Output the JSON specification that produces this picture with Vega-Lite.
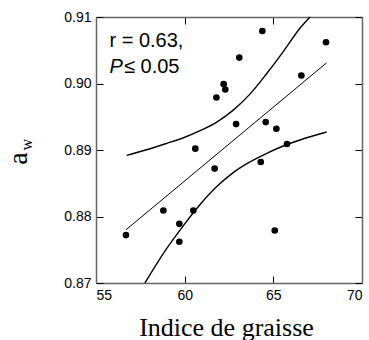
{
  "$schema": "https://vega.github.io/schema/vega-lite/v6.json",
  "width": 266,
  "height": 266,
  "autosize": {"type": "none"},
  "padding": {"left": 96, "top": 17, "right": 7, "bottom": 57},
  "background": "white",
  "config": {
    "view": {"stroke": null},
    "axis": {
      "labelFont": "Liberation Sans",
      "labelFontSize": 14,
      "labelColor": "black",
      "domainColor": "#666666",
      "domainWidth": 1.5,
      "tickColor": "black",
      "tickSize": -7,
      "tickWidth": 1,
      "grid": false,
      "labelPadding": 12
    }
  },
  "datasets": {
    "points": [
      {"fat": 56.69, "aw": 0.8772},
      {"fat": 58.8, "aw": 0.8809},
      {"fat": 59.7, "aw": 0.8789},
      {"fat": 59.7, "aw": 0.8762},
      {"fat": 60.49, "aw": 0.8809},
      {"fat": 60.6, "aw": 0.8902},
      {"fat": 61.69, "aw": 0.8872},
      {"fat": 61.79, "aw": 0.8979},
      {"fat": 62.2, "aw": 0.8999},
      {"fat": 62.29, "aw": 0.8991},
      {"fat": 62.9, "aw": 0.8939},
      {"fat": 63.08, "aw": 0.9039},
      {"fat": 64.29, "aw": 0.8882},
      {"fat": 64.38, "aw": 0.9079},
      {"fat": 64.57, "aw": 0.8942},
      {"fat": 65.08, "aw": 0.8779},
      {"fat": 65.17, "aw": 0.8932},
      {"fat": 65.77, "aw": 0.8909},
      {"fat": 66.58, "aw": 0.9012},
      {"fat": 67.97, "aw": 0.9062}
    ],
    "bands": [
      {"series": "upper", "fat": 56.73, "aw": 0.8892},
      {"series": "upper", "fat": 57.8, "aw": 0.89},
      {"series": "upper", "fat": 58.99, "aw": 0.891},
      {"series": "upper", "fat": 59.9, "aw": 0.8918},
      {"series": "upper", "fat": 60.87, "aw": 0.8929},
      {"series": "upper", "fat": 61.81, "aw": 0.8942},
      {"series": "upper", "fat": 62.74, "aw": 0.896},
      {"series": "upper", "fat": 63.68, "aw": 0.8984},
      {"series": "upper", "fat": 64.63, "aw": 0.9015},
      {"series": "upper", "fat": 65.56, "aw": 0.9048},
      {"series": "upper", "fat": 66.5, "aw": 0.9083},
      {"series": "upper", "fat": 67.07, "aw": 0.91},
      {"series": "lower", "fat": 57.76, "aw": 0.87},
      {"series": "lower", "fat": 58.99, "aw": 0.8752},
      {"series": "lower", "fat": 59.92, "aw": 0.8786},
      {"series": "lower", "fat": 60.87, "aw": 0.8818},
      {"series": "lower", "fat": 61.81, "aw": 0.8845},
      {"series": "lower", "fat": 62.74, "aw": 0.8866},
      {"series": "lower", "fat": 63.68, "aw": 0.8882},
      {"series": "lower", "fat": 64.63, "aw": 0.8895},
      {"series": "lower", "fat": 65.56, "aw": 0.8906},
      {"series": "lower", "fat": 66.5, "aw": 0.8915},
      {"series": "lower", "fat": 68.01, "aw": 0.8927}
    ],
    "fit": [
      {"fat": 56.69, "aw": 0.878},
      {"fat": 68.0, "aw": 0.9031}
    ],
    "notes": [
      {"fat": 55.76, "aw": 0.9055, "label": "r = 0.63,"},
      {"fat": 56.58, "aw": 0.9016, "label": "≤ 0.05"}
    ],
    "italic": [
      {"fat": 55.76, "aw": 0.9016, "label": "P"}
    ],
    "sub": [
      {"fat": 51.4, "aw": 0.8908, "label": "w"}
    ]
  },
  "layer": [
    {
      "data": {"name": "bands"},
      "mark": {"type": "line", "interpolate": "monotone", "color": "black", "strokeWidth": 1.4},
      "encoding": {
        "x": {"field": "fat", "type": "quantitative", "scale": {"domain": [55, 70], "nice": false, "zero": false},
              "axis": {"orient": "top", "labels": false, "title": null, "values": [55, 60, 65, 70]}},
        "y": {"field": "aw", "type": "quantitative", "scale": {"domain": [0.87, 0.91], "nice": false, "zero": false},
              "axis": {"orient": "right", "labels": false, "title": null, "values": [0.87, 0.88, 0.89, 0.9, 0.91]}},
        "detail": {"field": "series"}
      }
    },
    {
      "data": {"name": "fit"},
      "mark": {"type": "line", "color": "black", "strokeWidth": 1},
      "encoding": {
        "x": {"field": "fat", "type": "quantitative", "axis": null},
        "y": {"field": "aw", "type": "quantitative", "axis": null}
      }
    },
    {
      "data": {"name": "points"},
      "mark": {"type": "point", "filled": true, "size": 44, "color": "black", "opacity": 1},
      "encoding": {
        "x": {"field": "fat", "type": "quantitative",
              "axis": {"orient": "bottom", "values": [55, 60, 65, 70], "title": "Indice de graisse",
                       "titleFont": "Liberation Serif", "titleFontSize": 26, "titleFontWeight": "normal",
                       "titleColor": "black", "titleBaseline": "alphabetic", "titleY": 52, "titleX": 130}},
        "y": {"field": "aw", "type": "quantitative",
              "axis": {"orient": "left", "values": [0.87, 0.88, 0.89, 0.9, 0.91], "format": ".2f", "title": "a",
                       "titleFont": "Liberation Serif", "titleFontSize": 28, "titleFontWeight": "normal",
                       "titleColor": "black", "titleAngle": 270, "titleBaseline": "alphabetic",
                       "titleAlign": "center", "titleX": -70, "titleY": 141}}
      }
    },
    {
      "data": {"name": "notes"},
      "mark": {"type": "text", "font": "Liberation Sans", "fontSize": 20, "align": "left", "baseline": "alphabetic", "color": "black"},
      "encoding": {
        "x": {"field": "fat", "type": "quantitative", "axis": null},
        "y": {"field": "aw", "type": "quantitative", "axis": null},
        "text": {"field": "label"}
      }
    },
    {
      "data": {"name": "italic"},
      "mark": {"type": "text", "font": "Liberation Sans", "fontSize": 20, "fontStyle": "italic", "align": "left", "baseline": "alphabetic", "color": "black"},
      "encoding": {
        "x": {"field": "fat", "type": "quantitative", "axis": null},
        "y": {"field": "aw", "type": "quantitative", "axis": null},
        "text": {"field": "label"}
      }
    },
    {
      "data": {"name": "sub"},
      "mark": {"type": "text", "font": "Liberation Serif", "fontSize": 16, "align": "center", "baseline": "alphabetic", "angle": 270, "color": "black"},
      "encoding": {
        "x": {"field": "fat", "type": "quantitative", "axis": null},
        "y": {"field": "aw", "type": "quantitative", "axis": null},
        "text": {"field": "label"}
      }
    }
  ],
  "resolve": {"axis": {"x": "independent", "y": "independent"}}
}
